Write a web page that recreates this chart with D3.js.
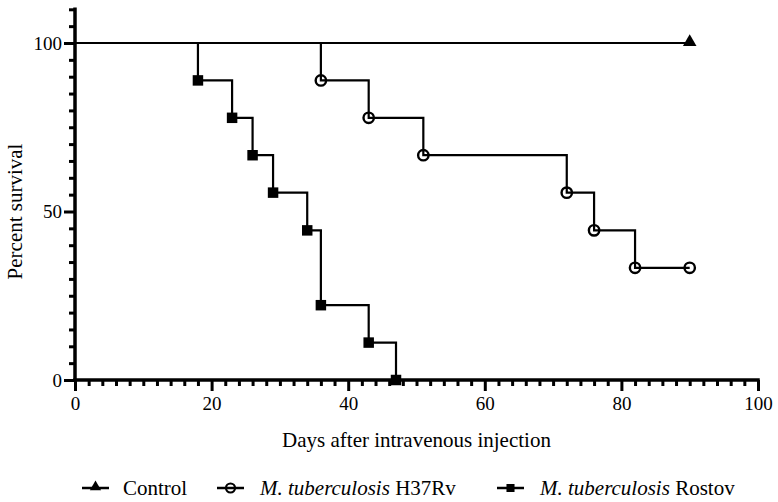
<!DOCTYPE html>
<html>
<head>
<meta charset="utf-8">
<script src="https://cdn.jsdelivr.net/npm/d3@7"></script>
<style>
  body { margin: 0; background: #fff; }
  svg { display: block; }
</style>
</head>
<body>
<svg id="chart" width="778" height="502"></svg>
<script>
// ---- Data ----
const seriesNames = ["Control", "M. tuberculosis H37Rv", "M. tuberculosis Rostov"];
// Kaplan-Meier step data: days and percent survival after each event
const controlDays = [0, 90];
const controlSurv = [100, 100];
const h37rvDays = [0, 36, 43, 51, 72, 76, 82, 90];
const h37rvSurv = [100, 88.9, 77.8, 66.7, 55.6, 44.4, 33.3, 33.3];
const rostovDays = [0, 18, 23, 26, 29, 34, 36, 43, 47];
const rostovSurv = [100, 88.9, 77.8, 66.7, 55.6, 44.4, 22.2, 11.1, 0];
const xTicks = [0, 20, 40, 60, 80, 100];
const yTicks = [0, 50, 100];

const FONT = "'Liberation Serif', 'DejaVu Serif', serif";
const svg = d3.select("#chart");
const x = d3.scaleLinear().domain([0, 100]).range([75, 758]);
const y = d3.scaleLinear().domain([0, 100]).range([380, 43]);
const yTop = 110;

// ---- Axes ----
const xMinor = d3.range(0, 101, 2).filter(d => d % 20 !== 0);
const yMinor = d3.range(0, yTop + 1, 5).filter(d => !yTicks.includes(d));

const gx = svg.append("g").attr("transform", `translate(0,${y(0)})`);
gx.call(d3.axisBottom(x).tickValues(xMinor).tickSize(6).tickFormat(""));
gx.selectAll(".domain").remove();
const gx2 = svg.append("g").attr("transform", `translate(0,${y(0)})`);
gx2.call(d3.axisBottom(x).tickValues(xTicks).tickSize(11).tickPadding(6).tickFormat(d3.format("d")));
gx2.selectAll(".domain").remove();
gx2.selectAll("text").style("font-family", FONT).style("font-size", "19px").attr("dy", "0.71em");

const gy = svg.append("g").attr("transform", `translate(${x(0)},0)`);
gy.call(d3.axisLeft(y).tickValues(yMinor).tickSize(6).tickFormat(""));
gy.selectAll(".domain").remove();
const gy2 = svg.append("g").attr("transform", `translate(${x(0)},0)`);
gy2.call(d3.axisLeft(y).tickValues(yTicks).tickSize(11).tickPadding(2).tickFormat(d3.format("d")));
gy2.selectAll(".domain").remove();
gy2.selectAll("text").style("font-family", FONT).style("font-size", "19px");

svg.selectAll(".tick line").attr("stroke", "#000").attr("stroke-width", 3);

// axis lines
svg.append("line").attr("x1", x(0)).attr("x2", x(100)).attr("y1", y(0)).attr("y2", y(0))
  .attr("stroke", "#000").attr("stroke-width", 3.5).attr("stroke-linecap", "square");
svg.append("line").attr("x1", x(0)).attr("x2", x(0)).attr("y1", y(0)).attr("y2", y(yTop))
  .attr("stroke", "#000").attr("stroke-width", 3.5).attr("stroke-linecap", "square");

// axis titles
svg.append("text").attr("x", (x(0) + x(100)) / 2).attr("y", 447)
  .attr("text-anchor", "middle").style("font-family", FONT).style("font-size", "21px")
  .text("Days after intravenous injection");
svg.append("text").attr("transform", `translate(22,${(y(0) + y(100)) / 2}) rotate(-90)`)
  .attr("text-anchor", "middle").style("font-family", FONT).style("font-size", "21px")
  .text("Percent survival");

// ---- Lines ----
const line = d3.line().x(d => x(d[0])).y(d => y(d[1])).curve(d3.curveStepAfter);
function drawSeries(days, surv) {
  const pts = days.map((d, i) => [d, surv[i]]);
  svg.append("path").datum(pts).attr("d", line)
    .attr("fill", "none").attr("stroke", "#000").attr("stroke-width", 2.2);
  return pts;
}
drawSeries(controlDays, controlSurv);
const hPts = drawSeries(h37rvDays, h37rvSurv);
const rPts = drawSeries(rostovDays, rostovSurv);

// markers
const tri = d3.symbol().type(d3.symbolTriangle).size(80);
const sq = d3.symbol().type(d3.symbolSquare).size(110);
svg.append("path").attr("d", tri)
  .attr("transform", `translate(${x(controlDays[1])},${y(controlSurv[1]) - 1})`).attr("fill", "#000");
svg.selectAll(".hm").data(hPts.slice(1)).join("circle")
  .attr("cx", d => x(d[0])).attr("cy", d => y(d[1])).attr("r", 5.2)
  .attr("fill", "none").attr("stroke", "#000").attr("stroke-width", 2.4);
svg.selectAll(".rm").data(rPts.slice(1)).join("path")
  .attr("d", sq).attr("transform", d => `translate(${x(d[0])},${y(d[1])})`).attr("fill", "#000");

// ---- Legend ----
const legendY = 488;
const legend = [
  { x0: 82, sym: "tri", tx: 123, name: seriesNames[0] },
  { x0: 217, sym: "circ", tx: 260, name: seriesNames[1] },
  { x0: 497, sym: "sq", tx: 540, name: seriesNames[2] }
];
legend.forEach(l => {
  svg.append("line").attr("x1", l.x0).attr("x2", l.x0 + 27).attr("y1", legendY).attr("y2", legendY)
    .attr("stroke", "#000").attr("stroke-width", 2.5);
  const cx = l.x0 + 13.5;
  if (l.sym === "tri") svg.append("path").attr("d", d3.symbol().type(d3.symbolTriangle).size(55))
    .attr("transform", `translate(${cx},${legendY - 1})`).attr("fill", "#000");
  if (l.sym === "circ") svg.append("circle").attr("cx", cx).attr("cy", legendY).attr("r", 4.5)
    .attr("fill", "none").attr("stroke", "#000").attr("stroke-width", 2.2);
  if (l.sym === "sq") svg.append("path").attr("d", d3.symbol().type(d3.symbolSquare).size(65))
    .attr("transform", `translate(${cx},${legendY})`).attr("fill", "#000");
  const t = svg.append("text").attr("x", l.tx).attr("y", legendY).attr("dy", "0.35em")
    .style("font-family", FONT).style("font-size", "21px");
  if (l.name.startsWith("M. tuberculosis")) {
    t.append("tspan").style("font-style", "italic").text("M. tuberculosis");
    t.append("tspan").text(" " + l.name.replace("M. tuberculosis ", ""));
  } else {
    t.text(l.name);
  }
});
</script>
</body>
</html>
